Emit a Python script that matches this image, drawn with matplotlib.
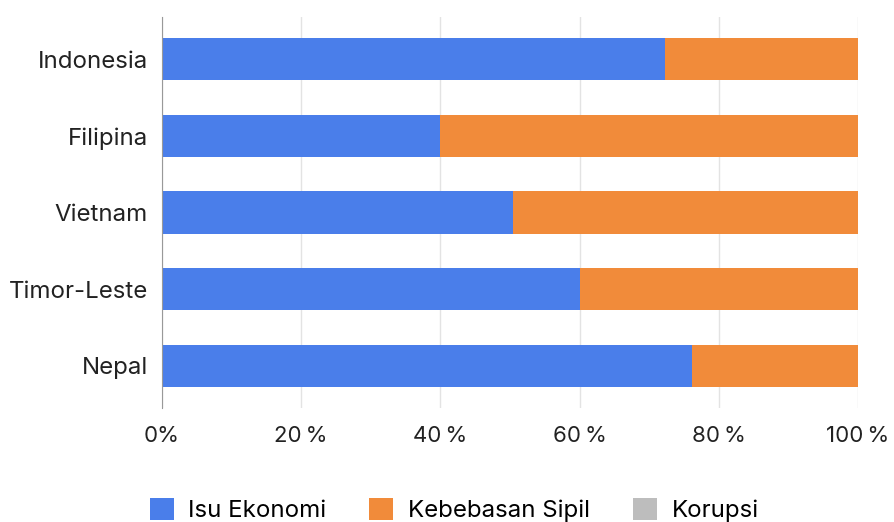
import matplotlib.pyplot as plt
from matplotlib.patches import Patch
import numpy as np

plt.rcParams['font.family'] = ['Inter', 'DejaVu Sans']

countries = ['Indonesia', 'Filipina', 'Vietnam', 'Timor-Leste', 'Nepal']
ekonomi = [72.3, 40.0, 50.4, 60.0, 76.2]
sipil = [27.7, 60.0, 49.6, 40.0, 23.8]
korupsi = [0, 0, 0, 0, 0]
series = ['Isu Ekonomi', 'Kebebasan Sipil', 'Korupsi']
colors = ['#4a7eea', '#f18b3a', '#bdbdbd']
xticks = [0, 20, 40, 60, 80, 100]
xlabels = ['0%', '20\u2009%', '40\u2009%', '60\u2009%', '80\u2009%', '100\u2009%']

fig = plt.figure(figsize=(8.94, 5.22), dpi=100)
ax = fig.add_axes([162 / 894, 1 - 408 / 522, 696 / 894, 391 / 522])

y = np.arange(len(countries))
left = np.zeros(len(countries))
for vals, c in zip([ekonomi, sipil, korupsi], colors):
    ax.barh(y, vals, left=left, height=0.55, color=c, zorder=2)
    left += np.array(vals)

ax.set_xlim(0, 100)
ax.set_ylim(4.55, -0.55)
ax.set_yticks(y)
ax.set_yticklabels(countries, fontsize=17.3, color='#222222')
ax.set_xticks(xticks)
ax.set_xticklabels(xlabels, fontsize=16, color='#222222')
ax.tick_params(axis='both', length=0)
ax.tick_params(axis='y', pad=10)
ax.tick_params(axis='x', pad=13)
ax.grid(axis='x', color='#e3e3e3', linewidth=1, zorder=0)
for s in ['top', 'right', 'bottom']:
    ax.spines[s].set_visible(False)
ax.spines['left'].set_color('#999999')
ax.spines['left'].set_zorder(3)

handles = [Patch(facecolor=c, edgecolor='none') for c in colors]
fig.legend(handles, series, loc='center', bbox_to_anchor=(0.508, 1 - 510 / 522),
           ncol=3, frameon=False, fontsize=17.3, handlelength=1.0, handleheight=1.0,
           handletextpad=0.6, columnspacing=1.8)

fig.savefig('out.png', dpi=100)
